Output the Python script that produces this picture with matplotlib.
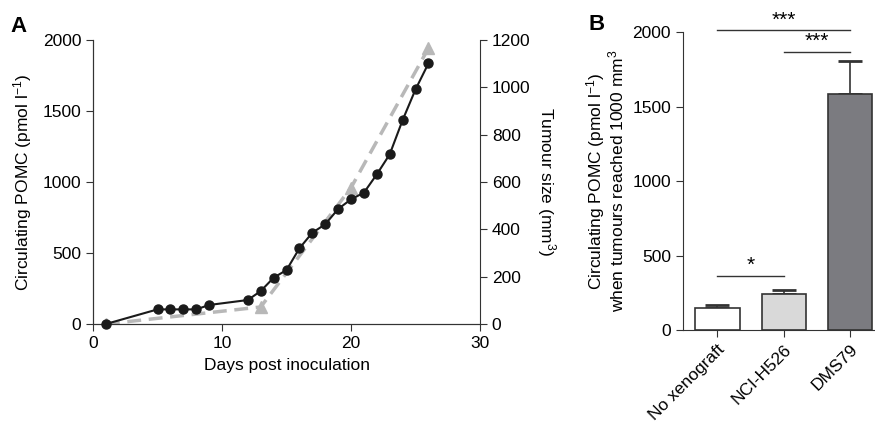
import numpy as np
import matplotlib.pyplot as plt

plt.rcParams['font.family'] = ['Liberation Sans', 'DejaVu Sans']
plt.rcParams['font.size'] = 12.5
plt.rcParams['mathtext.default'] = 'regular'

# Panel A: circulating POMC (left axis) and tumour size (right axis)
pomc_days = [1, 5, 6, 7, 8, 9, 12, 13, 14, 15, 16, 17, 18, 19, 20, 21, 22, 23, 24, 25, 26]
pomc_vals = [0, 103, 103, 103, 103, 134, 169, 232, 326, 380, 533, 643, 702, 810, 878, 925,
             1054, 1195, 1436, 1652, 1835]
tumour_days = [1, 13, 20, 26]
tumour_vals = [0, 72, 576, 1165]

# Panel B: POMC when tumours reached 1000 mm3
groups = ['No xenograft', 'NCI-H526', 'DMS79']
bar_means = [146, 240, 1584]
bar_err = [24, 28, 224]
bar_colors = ['white', '#d9d9d9', '#7b7b80']

fig = plt.figure(figsize=(8.75, 4.22), dpi=100)

# ---- A ----
ax = fig.add_axes([0.1063, 0.2322, 0.4423, 0.673])
ax2 = ax.twinx()
ax2.plot(tumour_days, tumour_vals, color='#b8b8b8', lw=2.5, ls=(0, (4, 2.2)),
         marker='^', ms=8, zorder=2)
ax.plot(pomc_days, pomc_vals, color='#1a1a1a', lw=1.5, marker='o', ms=6.5, zorder=3, clip_on=False)
ax.set_zorder(ax2.get_zorder() + 1)
ax.patch.set_visible(False)

ax.set_xlim(0, 30)
ax.set_ylim(0, 2000)
ax.set_xticks([0, 10, 20, 30])
ax.set_yticks([0, 500, 1000, 1500, 2000])
ax2.set_ylim(0, 1200)
ax2.set_yticks(np.arange(0, 1201, 200))
ax.set_xlabel('Days post inoculation', labelpad=5)
ax.set_ylabel('Circulating POMC (pmol l$^{-1}$)', labelpad=6)
ax2.set_ylabel('Tumour size (mm$^3$)', rotation=270, labelpad=20)
for a in (ax, ax2):
    a.spines['top'].set_visible(False)
    for s in a.spines.values():
        s.set_color('#333333')
    a.tick_params(direction='out', length=5, color='#333333')
ax.spines['right'].set_visible(False)

fig.text(0.012, 0.925, 'A', fontsize=16, fontweight='bold')

# ---- B ----
bx = fig.add_axes([0.7803, 0.218, 0.2187, 0.7054])
x = np.arange(len(groups))
bx.bar(x, bar_means, width=0.67, color=bar_colors, edgecolor='#333333', lw=1.2, zorder=2)
bx.errorbar(x, bar_means, yerr=[np.zeros(3), bar_err], fmt='none', ecolor='#333333',
            elinewidth=1.2, capsize=8.5, capthick=2, zorder=1)
bx.set_xlim(-0.52, 2.36)
bx.set_ylim(0, 2000)
bx.set_yticks([0, 500, 1000, 1500, 2000])
bx.set_xticks(x)
bx.set_xticklabels(groups, rotation=45, ha='right', rotation_mode='anchor')
bx.set_ylabel('Circulating POMC (pmol l$^{-1}$)\nwhen tumours reached 1000 mm$^3$',
              linespacing=1.0, labelpad=4)
bx.spines['top'].set_visible(False)
bx.spines['right'].set_visible(False)
for s in bx.spines.values():
    s.set_color('#333333')
bx.tick_params(direction='out', length=5, color='#333333')

# significance bars
sig = [(0, 1, 365, '*'), (1, 2, 1870, '***'), (0, 2, 2015, '***')]
for i0, i1, yv, lab in sig:
    bx.plot([x[i0], x[i1]], [yv, yv], color='#333333', lw=1, clip_on=False)
    bx.text((x[i0] + x[i1]) / 2, yv + 5, lab, ha='center', va='bottom', fontsize=15)

fig.text(0.672, 0.93, 'B', fontsize=16, fontweight='bold')

fig.savefig('out.png', dpi=100)
